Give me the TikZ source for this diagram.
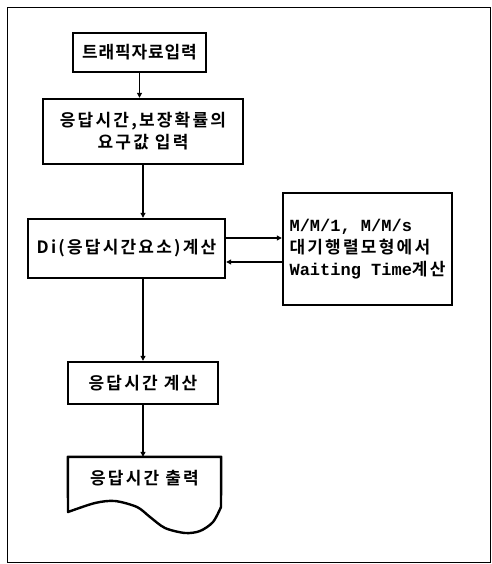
\documentclass[tikz,border=0pt]{standalone}
\usepackage{fontspec}
\setmainfont{Noto Sans CJK KR Bold}[LetterSpace=13]
\newfontfamily\monofont{Liberation Mono Bold}
\newfontfamily\tightfont{Noto Sans CJK KR Bold}[LetterSpace=5]
\usetikzlibrary{positioning, arrows.meta, calc}

\begin{document}
\begin{tikzpicture}[x=1pt, y=-1pt,
    box/.style={draw, line width=2.4pt, inner sep=2pt, align=center, font=\fontsize{17}{22}\selectfont},
    flow/.style={line width=1.1pt, -{Triangle[length=5pt, width=5pt]}}]
    \useasboundingbox (0,0) rectangle (491,564);
    \draw[line width=0.8pt] (7,7) rectangle (490,562);
    \node[box, minimum width=133pt, minimum height=39pt] (traffic) at (139.5,52.5) {\tightfont 트래픽자료입력};
    \node[box, minimum width=200pt, minimum height=65pt] (require) at (143,131.5) {응답시간,보장확률의\\요구값 입력};
    \node[box, minimum width=197pt, minimum height=59pt] (di) at (126.5,248.5) {Di(응답시간요소)계산};
    \node[box, minimum width=169pt, minimum height=112pt, align=left] (queue) at (367.5,249)
        {{\monofont M/M/1, M/M/s}\\대기행렬모형에서\\{\monofont Waiting Time}계산};
    \node[box, minimum width=150pt, minimum height=42pt] (resp) at (143,383) {응답시간 계산};
    \node[font=\fontsize{17}{22}\selectfont, minimum width=153pt, minimum height=42pt] (out) at (144.5,478) {응답시간 출력};
    \draw[line width=2.4pt, line join=round] (out.north west) -- (out.north east) -- (221,507)
        -- plot[smooth] coordinates {(221,507) (213,522) (200,531) (185,533) (165,528) (150,517) (137,507) (115,501) (95,503) (68,512)}
        -- (out.north west) -- cycle;
    % connectors
    \draw[flow] (traffic.south) -- (traffic.south |- require.north);
    \draw[flow] (require.south) -- (require.south |- di.north);
    \draw[flow] ([yshift=10.5pt]di.east) -- ([yshift=10.5pt]di.east -| queue.west);
    \draw[flow] ([yshift=-13.5pt]di.east -| queue.west) -- ([yshift=-13.5pt]di.east);
    \draw[flow] (resp.north |- di.south) -- (resp.north);
    \draw[flow] (resp.south) -- (resp.south |- out.north);
\end{tikzpicture}
\end{document}
